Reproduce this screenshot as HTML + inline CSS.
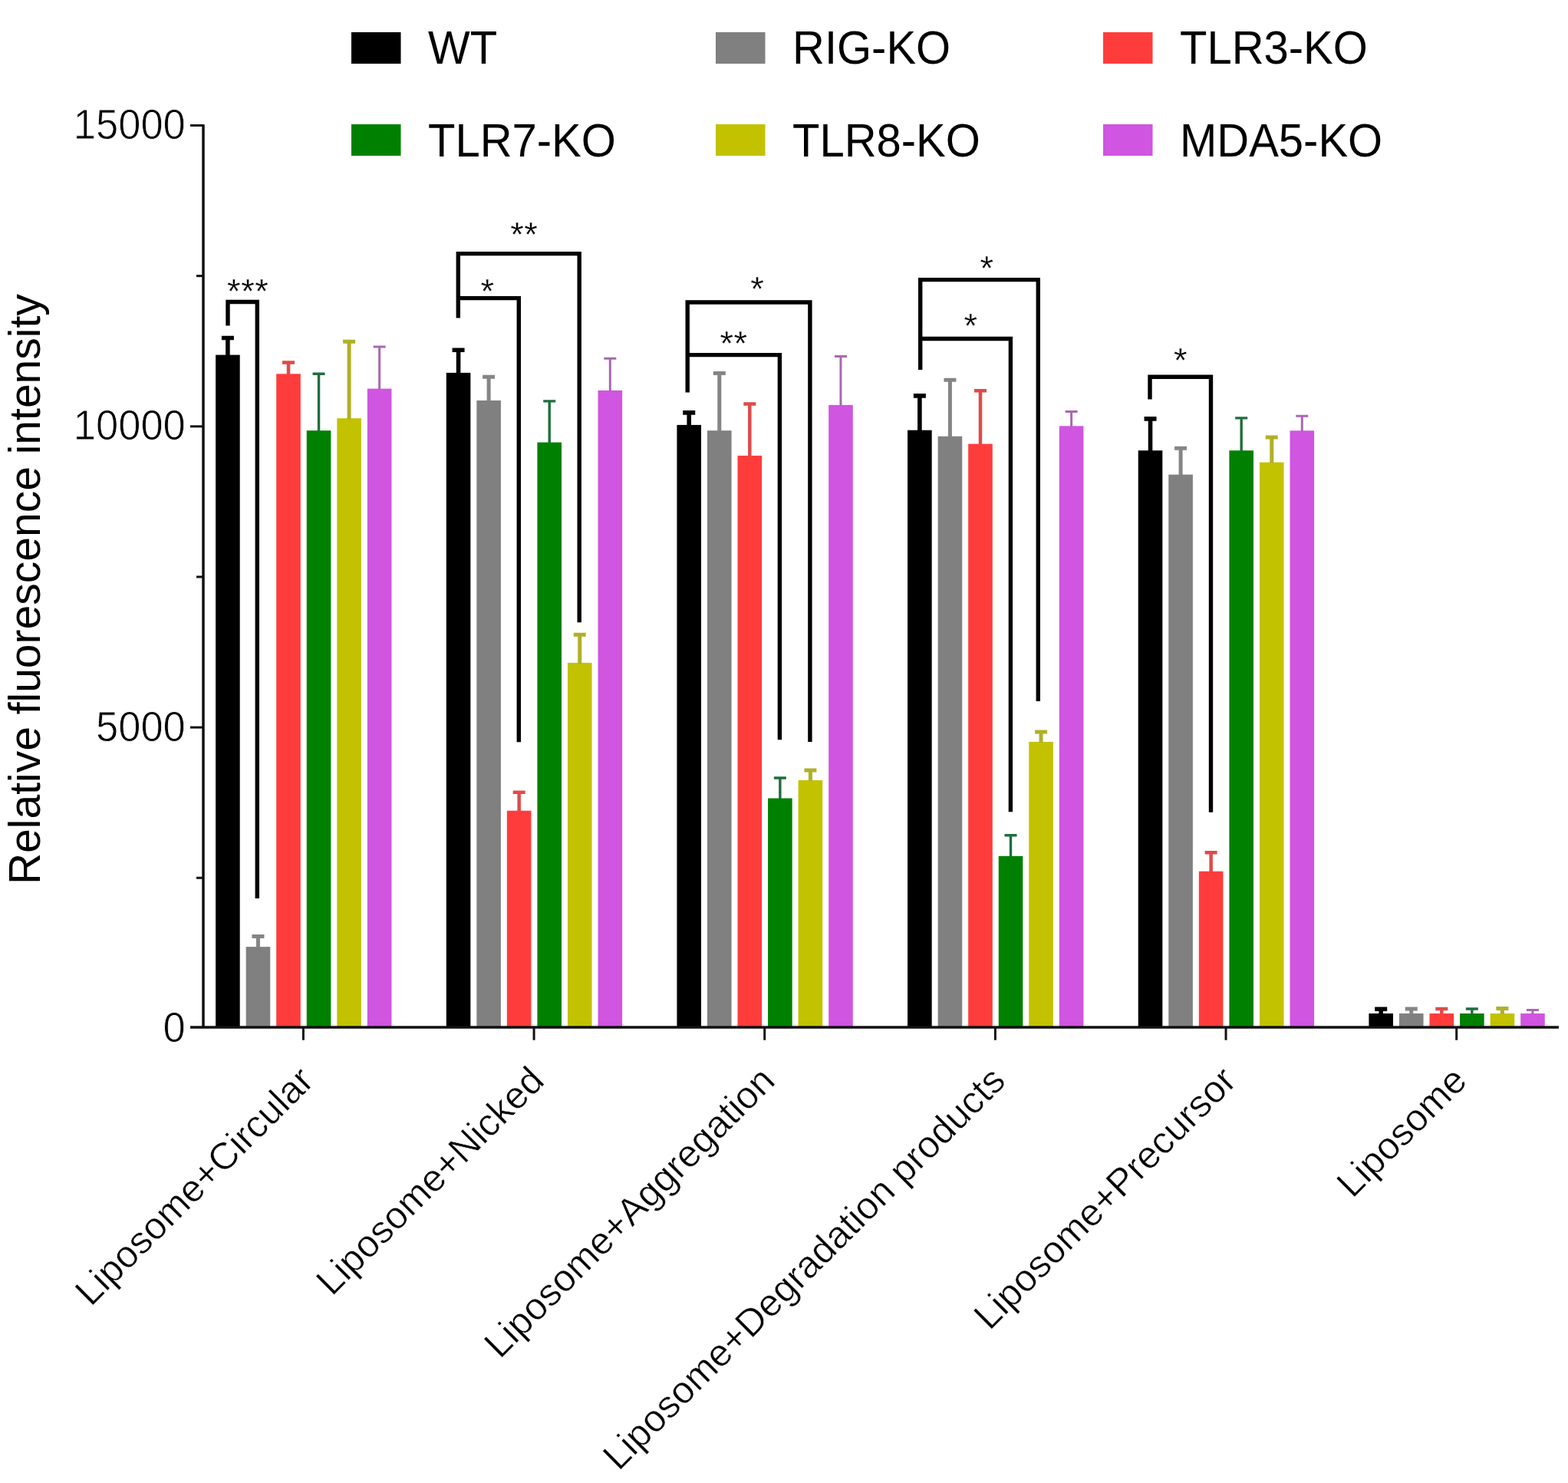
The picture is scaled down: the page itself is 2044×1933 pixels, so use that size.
<!DOCTYPE html>
<html><head><meta charset="utf-8"><title>Relative fluorescence intensity</title>
<style>
html,body{margin:0;padding:0;background:#fff;}
body{width:2044px;height:1933px;overflow:hidden;}
svg{display:block;font-family:"Liberation Sans", sans-serif;}
text{fill:#000;}
</style></head>
<body>
<svg width="2044" height="1933" viewBox="0 0 2044 1933">
<rect width="2044" height="1933" fill="#fff"/>
<rect x="458" y="42" width="64.5" height="41" fill="#000000"/>
<rect x="933" y="42" width="64.5" height="41" fill="#808080"/>
<rect x="1438" y="42" width="64.5" height="41" fill="#ff3c3c"/>
<rect x="458" y="162" width="64.5" height="41" fill="#008000"/>
<rect x="933" y="162" width="64.5" height="41" fill="#c2c200"/>
<rect x="1438" y="162" width="64.5" height="41" fill="#d055e0"/>
<text transform="translate(558,83) scale(1,1.04)" font-size="58">WT</text>
<text transform="translate(1033,83) scale(1,1.04)" font-size="58">RIG-KO</text>
<text transform="translate(1538,83) scale(1,1.04)" font-size="58">TLR3-KO</text>
<text transform="translate(558,203.5) scale(1,1.04)" font-size="58">TLR7-KO</text>
<text transform="translate(1033,203.5) scale(1,1.04)" font-size="58">TLR8-KO</text>
<text transform="translate(1538,203.5) scale(1,1.04)" font-size="58">MDA5-KO</text>
<rect x="281.10" y="462.60" width="31.6" height="876.40" fill="#000000"/>
<rect x="320.65" y="1234.10" width="31.6" height="104.90" fill="#808080"/>
<rect x="360.20" y="487.30" width="31.6" height="851.70" fill="#ff3c3c"/>
<rect x="399.75" y="561.20" width="31.6" height="777.80" fill="#008000"/>
<rect x="439.30" y="545.20" width="31.6" height="793.80" fill="#c2c200"/>
<rect x="478.85" y="506.60" width="31.6" height="832.40" fill="#d055e0"/>
<rect x="581.76" y="485.90" width="31.6" height="853.10" fill="#000000"/>
<rect x="621.31" y="522.00" width="31.6" height="817.00" fill="#808080"/>
<rect x="660.86" y="1056.70" width="31.6" height="282.30" fill="#ff3c3c"/>
<rect x="700.41" y="576.60" width="31.6" height="762.40" fill="#008000"/>
<rect x="739.96" y="863.90" width="31.6" height="475.10" fill="#c2c200"/>
<rect x="779.51" y="508.90" width="31.6" height="830.10" fill="#d055e0"/>
<rect x="882.42" y="553.90" width="31.6" height="785.10" fill="#000000"/>
<rect x="921.97" y="561.20" width="31.6" height="777.80" fill="#808080"/>
<rect x="961.52" y="593.90" width="31.6" height="745.10" fill="#ff3c3c"/>
<rect x="1001.07" y="1040.50" width="31.6" height="298.50" fill="#008000"/>
<rect x="1040.62" y="1017.00" width="31.6" height="322.00" fill="#c2c200"/>
<rect x="1080.17" y="527.90" width="31.6" height="811.10" fill="#d055e0"/>
<rect x="1183.08" y="560.70" width="31.6" height="778.30" fill="#000000"/>
<rect x="1222.63" y="568.70" width="31.6" height="770.30" fill="#808080"/>
<rect x="1262.18" y="578.60" width="31.6" height="760.40" fill="#ff3c3c"/>
<rect x="1301.73" y="1115.80" width="31.6" height="223.20" fill="#008000"/>
<rect x="1341.28" y="966.90" width="31.6" height="372.10" fill="#c2c200"/>
<rect x="1380.83" y="555.30" width="31.6" height="783.70" fill="#d055e0"/>
<rect x="1483.74" y="587.20" width="31.6" height="751.80" fill="#000000"/>
<rect x="1523.29" y="618.60" width="31.6" height="720.40" fill="#808080"/>
<rect x="1562.84" y="1135.70" width="31.6" height="203.30" fill="#ff3c3c"/>
<rect x="1602.39" y="587.20" width="31.6" height="751.80" fill="#008000"/>
<rect x="1641.94" y="602.60" width="31.6" height="736.40" fill="#c2c200"/>
<rect x="1681.49" y="561.30" width="31.6" height="777.70" fill="#d055e0"/>
<rect x="1784.40" y="1321.00" width="31.6" height="18.00" fill="#000000"/>
<rect x="1823.95" y="1321.00" width="31.6" height="18.00" fill="#808080"/>
<rect x="1863.50" y="1321.00" width="31.6" height="18.00" fill="#ff3c3c"/>
<rect x="1903.05" y="1321.00" width="31.6" height="18.00" fill="#008000"/>
<rect x="1942.60" y="1321.00" width="31.6" height="18.00" fill="#c2c200"/>
<rect x="1982.15" y="1321.00" width="31.6" height="18.00" fill="#d055e0"/>
<path d="M296.90,463.60V440.50M288.90,440.50H304.90" stroke="#000000" stroke-width="5.6" fill="none"/>
<path d="M336.45,1235.10V1220.50M328.45,1220.50H344.45" stroke="#858585" stroke-width="5.0" fill="none"/>
<path d="M376.00,488.30V472.60M368.00,472.60H384.00" stroke="#e04a4a" stroke-width="4.5" fill="none"/>
<path d="M415.55,562.20V487.30M407.55,487.30H423.55" stroke="#1f6e3e" stroke-width="3.4" fill="none"/>
<path d="M455.10,546.20V445.30M447.10,445.30H463.10" stroke="#b0b028" stroke-width="5.0" fill="none"/>
<path d="M494.65,507.60V451.90M486.65,451.90H502.65" stroke="#a868b0" stroke-width="3.0" fill="none"/>
<path d="M597.56,486.90V456.20M589.56,456.20H605.56" stroke="#000000" stroke-width="5.6" fill="none"/>
<path d="M637.11,523.00V491.20M629.11,491.20H645.11" stroke="#858585" stroke-width="5.0" fill="none"/>
<path d="M676.66,1057.70V1032.80M668.66,1032.80H684.66" stroke="#e04a4a" stroke-width="4.5" fill="none"/>
<path d="M716.21,577.60V522.90M708.21,522.90H724.21" stroke="#1f6e3e" stroke-width="3.4" fill="none"/>
<path d="M755.76,864.90V827.20M747.76,827.20H763.76" stroke="#b0b028" stroke-width="5.0" fill="none"/>
<path d="M795.31,509.90V467.20M787.31,467.20H803.31" stroke="#a868b0" stroke-width="3.0" fill="none"/>
<path d="M898.22,554.90V537.90M890.22,537.90H906.22" stroke="#000000" stroke-width="5.6" fill="none"/>
<path d="M937.77,562.20V486.60M929.77,486.60H945.77" stroke="#858585" stroke-width="5.0" fill="none"/>
<path d="M977.32,594.90V526.60M969.32,526.60H985.32" stroke="#e04a4a" stroke-width="4.5" fill="none"/>
<path d="M1016.87,1041.50V1014.00M1008.87,1014.00H1024.87" stroke="#1f6e3e" stroke-width="3.4" fill="none"/>
<path d="M1056.42,1018.00V1004.10M1048.42,1004.10H1064.42" stroke="#b0b028" stroke-width="5.0" fill="none"/>
<path d="M1095.97,528.90V464.60M1087.97,464.60H1103.97" stroke="#a868b0" stroke-width="3.0" fill="none"/>
<path d="M1198.88,561.70V515.90M1190.88,515.90H1206.88" stroke="#000000" stroke-width="5.6" fill="none"/>
<path d="M1238.43,569.70V495.20M1230.43,495.20H1246.43" stroke="#858585" stroke-width="5.0" fill="none"/>
<path d="M1277.98,579.60V509.20M1269.98,509.20H1285.98" stroke="#e04a4a" stroke-width="4.5" fill="none"/>
<path d="M1317.53,1116.80V1088.80M1309.53,1088.80H1325.53" stroke="#1f6e3e" stroke-width="3.4" fill="none"/>
<path d="M1357.08,967.90V954.00M1349.08,954.00H1365.08" stroke="#b0b028" stroke-width="5.0" fill="none"/>
<path d="M1396.63,556.30V536.60M1388.63,536.60H1404.63" stroke="#a868b0" stroke-width="3.0" fill="none"/>
<path d="M1499.54,588.20V545.90M1491.54,545.90H1507.54" stroke="#000000" stroke-width="5.6" fill="none"/>
<path d="M1539.09,619.60V584.30M1531.09,584.30H1547.09" stroke="#858585" stroke-width="5.0" fill="none"/>
<path d="M1578.64,1136.70V1111.20M1570.64,1111.20H1586.64" stroke="#e04a4a" stroke-width="4.5" fill="none"/>
<path d="M1618.19,588.20V544.90M1610.19,544.90H1626.19" stroke="#1f6e3e" stroke-width="3.4" fill="none"/>
<path d="M1657.74,603.60V569.90M1649.74,569.90H1665.74" stroke="#b0b028" stroke-width="5.0" fill="none"/>
<path d="M1697.29,562.30V542.30M1689.29,542.30H1705.29" stroke="#a868b0" stroke-width="3.0" fill="none"/>
<path d="M1800.20,1322.00V1315.30M1792.20,1315.30H1808.20" stroke="#000000" stroke-width="5.6" fill="none"/>
<path d="M1839.75,1322.00V1315.00M1831.75,1315.00H1847.75" stroke="#858585" stroke-width="5.0" fill="none"/>
<path d="M1879.30,1322.00V1315.00M1871.30,1315.00H1887.30" stroke="#e04a4a" stroke-width="4.5" fill="none"/>
<path d="M1918.85,1322.00V1315.00M1910.85,1315.00H1926.85" stroke="#1f6e3e" stroke-width="3.4" fill="none"/>
<path d="M1958.40,1322.00V1314.40M1950.40,1314.40H1966.40" stroke="#b0b028" stroke-width="5.0" fill="none"/>
<path d="M1997.95,1322.00V1316.50M1989.95,1316.50H2005.95" stroke="#a868b0" stroke-width="3.0" fill="none"/>
<path d="M265.0,162.30V1339.0" stroke="#111" stroke-width="3.5" fill="none"/>
<path d="M248,1339.0H2032" stroke="#111" stroke-width="3.5" fill="none"/>
<path d="M248,948.10H265.0" stroke="#111" stroke-width="3" fill="none"/>
<path d="M248,555.80H265.0" stroke="#111" stroke-width="3" fill="none"/>
<path d="M248,163.50H265.0" stroke="#111" stroke-width="3" fill="none"/>
<path d="M256,1144.25H265.0" stroke="#111" stroke-width="3" fill="none"/>
<path d="M256,751.95H265.0" stroke="#111" stroke-width="3" fill="none"/>
<path d="M256,359.65H265.0" stroke="#111" stroke-width="3" fill="none"/>
<path d="M395.40,1339.0V1355.7" stroke="#111" stroke-width="3" fill="none"/>
<path d="M696.06,1339.0V1355.7" stroke="#111" stroke-width="3" fill="none"/>
<path d="M996.72,1339.0V1355.7" stroke="#111" stroke-width="3" fill="none"/>
<path d="M1297.38,1339.0V1355.7" stroke="#111" stroke-width="3" fill="none"/>
<path d="M1598.04,1339.0V1355.7" stroke="#111" stroke-width="3" fill="none"/>
<path d="M1898.70,1339.0V1355.7" stroke="#111" stroke-width="3" fill="none"/>
<text transform="translate(241.8,1357.80) scale(1,1.05)" font-size="52.5" text-anchor="end" stroke="#fff" stroke-width="0.8">0</text>
<text transform="translate(241.8,965.50) scale(1,1.05)" font-size="52.5" text-anchor="end" stroke="#fff" stroke-width="0.8">5000</text>
<text transform="translate(241.8,573.20) scale(1,1.05)" font-size="52.5" text-anchor="end" stroke="#fff" stroke-width="0.8">10000</text>
<text transform="translate(241.8,180.90) scale(1,1.05)" font-size="52.5" text-anchor="end" stroke="#fff" stroke-width="0.8">15000</text>
<text transform="translate(51.6,1153.1) rotate(-90)" font-size="57">Relative fluorescence intensity</text>
<text transform="translate(411.40,1411.30) rotate(-45)" font-size="49.5" text-anchor="end" stroke="#fff" stroke-width="0.6">Liposome+Circular</text>
<text transform="translate(712.06,1411.30) rotate(-45)" font-size="49.5" text-anchor="end" stroke="#fff" stroke-width="0.6">Liposome+Nicked</text>
<text transform="translate(1012.72,1411.30) rotate(-45)" font-size="49.5" text-anchor="end" stroke="#fff" stroke-width="0.6">Liposome+Aggregation</text>
<text transform="translate(1313.38,1411.30) rotate(-45)" font-size="49.5" text-anchor="end" stroke="#fff" stroke-width="0.6">Liposome+Degradation products</text>
<text transform="translate(1614.04,1411.30) rotate(-45)" font-size="49.5" text-anchor="end" stroke="#fff" stroke-width="0.6">Liposome+Precursor</text>
<text transform="translate(1914.70,1411.30) rotate(-45)" font-size="49.5" text-anchor="end" stroke="#fff" stroke-width="0.6">Liposome</text>
<path d="M297.0,424.5V393.5H335.3V1171" stroke="#000" stroke-width="5.4" fill="none" stroke-linejoin="miter" stroke-linecap="butt"/>
<path d="M597.3,414.6V330.6H755.2V811.2" stroke="#000" stroke-width="5.4" fill="none" stroke-linejoin="miter" stroke-linecap="butt"/>
<path d="M597.3,388.6H676.3V967.2" stroke="#000" stroke-width="5.4" fill="none" stroke-linejoin="miter" stroke-linecap="butt"/>
<path d="M896.2,511.5V394H1055.9V967.1" stroke="#000" stroke-width="5.4" fill="none" stroke-linejoin="miter" stroke-linecap="butt"/>
<path d="M896.2,462.6H1016.4V964.3" stroke="#000" stroke-width="5.4" fill="none" stroke-linejoin="miter" stroke-linecap="butt"/>
<path d="M1199.7,482V364.6H1353.3V913.9" stroke="#000" stroke-width="5.4" fill="none" stroke-linejoin="miter" stroke-linecap="butt"/>
<path d="M1199.7,441.5H1317.4V1058.3" stroke="#000" stroke-width="5.4" fill="none" stroke-linejoin="miter" stroke-linecap="butt"/>
<path d="M1499.0,520.6V491.3H1578.5V1058.8" stroke="#000" stroke-width="5.4" fill="none" stroke-linejoin="miter" stroke-linecap="butt"/>
<text x="296.07" y="394.71" font-size="45.0" letter-spacing="0.6" stroke="#fff" stroke-width="0.3">***</text>
<text x="665.23" y="321.06" font-size="45.0" letter-spacing="0.6" stroke="#fff" stroke-width="0.3">**</text>
<text x="626.53" y="395.06" font-size="45.0" letter-spacing="0.6" stroke="#fff" stroke-width="0.3">*</text>
<text x="978.18" y="392.06" font-size="45.0" letter-spacing="0.6" stroke="#fff" stroke-width="0.3">*</text>
<text x="938.43" y="463.06" font-size="45.0" letter-spacing="0.6" stroke="#fff" stroke-width="0.3">**</text>
<text x="1277.53" y="364.86" font-size="45.0" letter-spacing="0.6" stroke="#fff" stroke-width="0.3">*</text>
<text x="1256.53" y="440.36" font-size="45.0" letter-spacing="0.6" stroke="#fff" stroke-width="0.3">*</text>
<text x="1530.03" y="484.71" font-size="45.0" letter-spacing="0.6" stroke="#fff" stroke-width="0.3">*</text>
</svg>
</body></html>
